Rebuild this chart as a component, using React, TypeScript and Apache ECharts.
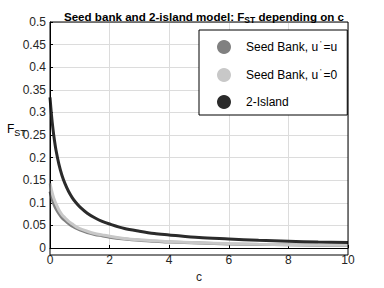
import React, { useEffect, useRef } from "react";
import * as echarts from "echarts";

const cValues = [0, 0.05, 0.1, 0.15, 0.2, 0.3, 0.4, 0.5, 0.625, 0.75, 0.875, 1, 1.25, 1.5, 1.75, 2, 2.5, 3, 3.5, 4, 5, 6, 7, 8, 9, 10];
const seedBankUU = [0.125, 0.113, 0.102, 0.094, 0.087, 0.076, 0.067, 0.061, 0.054, 0.048, 0.044, 0.040, 0.034, 0.030, 0.027, 0.024, 0.020, 0.017, 0.015, 0.013, 0.011, 0.009, 0.008, 0.007, 0.006, 0.0056];
const seedBankU0 = [0.143, 0.128, 0.116, 0.106, 0.098, 0.084, 0.074, 0.067, 0.059, 0.053, 0.047, 0.043, 0.037, 0.032, 0.029, 0.026, 0.021, 0.018, 0.016, 0.014, 0.0115, 0.0097, 0.0084, 0.0074, 0.0066, 0.006];
const twoIsland = [0.333, 0.294, 0.263, 0.238, 0.217, 0.185, 0.161, 0.143, 0.125, 0.111, 0.100, 0.091, 0.077, 0.067, 0.059, 0.053, 0.043, 0.037, 0.032, 0.029, 0.023, 0.020, 0.017, 0.015, 0.013, 0.012];
const seriesNames = ["Seed Bank, u'=u", "Seed Bank, u'=0", "2-Island"];
const seriesColors = ["#808080", "#c8c8c8", "#2b2b2b"];

const FONT = "Liberation Sans, Arial, sans-serif";

export default function App() {
  const ref = useRef<HTMLDivElement>(null);
  useEffect(() => {
    if (!ref.current) return;
    const chart = echarts.init(ref.current, undefined, { renderer: "svg" });
    const allData = [seedBankUU, seedBankU0, twoIsland];
    chart.setOption({
      animation: false,
      backgroundColor: "#ffffff",
      textStyle: { fontFamily: FONT },
      title: {
        text: "{t|Seed bank and 2-island model: F}{s|ST}{t| depending on c}",
        left: 199,
        top: 3,
        textAlign: "center",
        textStyle: {
          rich: {
            t: { fontSize: 11.6, fontWeight: "bold", color: "#000", fontFamily: FONT, lineHeight: 16 },
            s: { fontSize: 8.5, fontWeight: "bold", color: "#000", fontFamily: FONT, lineHeight: 16, padding: [7, 0, 0, 0] },
          },
        },
      },
      legend: {
        orient: "vertical",
        left: 199,
        top: 30,
        padding: [9, 10, 6, 18],
        itemGap: 13,
        itemWidth: 14,
        itemHeight: 14,
        borderColor: "#000",
        borderWidth: 1,
        backgroundColor: "#fff",
        data: seriesNames.map((n) => ({ name: n, icon: "circle" })),
        formatter: (name: string) => {
          if (name === "2-Island") return "{a|2-Island}";
          const parts = name.split("'");
          return "{a|" + parts[0] + "}{p|'}{a|" + parts[1] + "}";
        },
        textStyle: {
          rich: {
            a: { fontSize: 12, color: "#000", fontFamily: FONT },
            p: { fontSize: 8, color: "#000", fontFamily: FONT, padding: [0, 2, 8, 2] },
          },
          padding: [0, 0, 0, 10],
        },
      },
      grid: { left: 50, right: 36, top: 22, bottom: 33, containLabel: false },
      xAxis: {
        type: "value",
        min: 0,
        max: 10,
        interval: 2,
        name: "c",
        nameLocation: "middle",
        nameGap: 23,
        nameTextStyle: { fontSize: 12, color: "#262626", fontFamily: FONT },
        axisLine: { show: true, lineStyle: { color: "#000", width: 1 } },
        axisTick: { show: true, inside: true, length: 3, lineStyle: { color: "#000" } },
        axisLabel: { fontSize: 12, color: "#262626", margin: 6, fontFamily: FONT },
        splitLine: { show: true, lineStyle: { color: "#dcdcdc", width: 1 } },
      },
      yAxis: {
        type: "value",
        min: 0,
        max: 0.5,
        interval: 0.05,
        axisLine: { show: true, lineStyle: { color: "#000", width: 1 } },
        axisTick: { show: true, inside: true, length: 3, lineStyle: { color: "#000" } },
        axisLabel: {
          fontSize: 12,
          color: "#262626",
          margin: 4,
          fontFamily: FONT,
          formatter: (v: number) => String(parseFloat(v.toFixed(2))),
        },
        splitLine: { show: true, lineStyle: { color: "#dcdcdc", width: 1 } },
      },
      graphic: [
        {
          type: "rect",
          shape: { x: 50, y: 22, width: 298, height: 233 },
          style: { fill: "none", stroke: "#000", lineWidth: 1 },
          silent: true,
          z: 5,
        },
        {
          type: "text",
          left: 7,
          top: 120,
          style: {
            text: "{f|F}{s|ST}",
            rich: {
              f: { fontSize: 12, color: "#262626", fontFamily: FONT, lineHeight: 16 },
              s: { fontSize: 9, color: "#262626", fontFamily: FONT, lineHeight: 16, padding: [8, 0, 0, 0] },
            },
          },
        },
      ],
      series: seriesNames.map((name, i) => ({
        name,
        type: "line",
        smooth: 0.3,
        symbol: "none",
        color: seriesColors[i],
        lineStyle: { width: 3, color: seriesColors[i] },
        data: cValues.map((c, j) => [c, allData[i][j]]),
        z: 2 + i,
      })),
    });
    return () => chart.dispose();
  }, []);
  return <div ref={ref} style={{ width: 384, height: 288, position: "absolute", left: 0, top: 0 }} />;
}
